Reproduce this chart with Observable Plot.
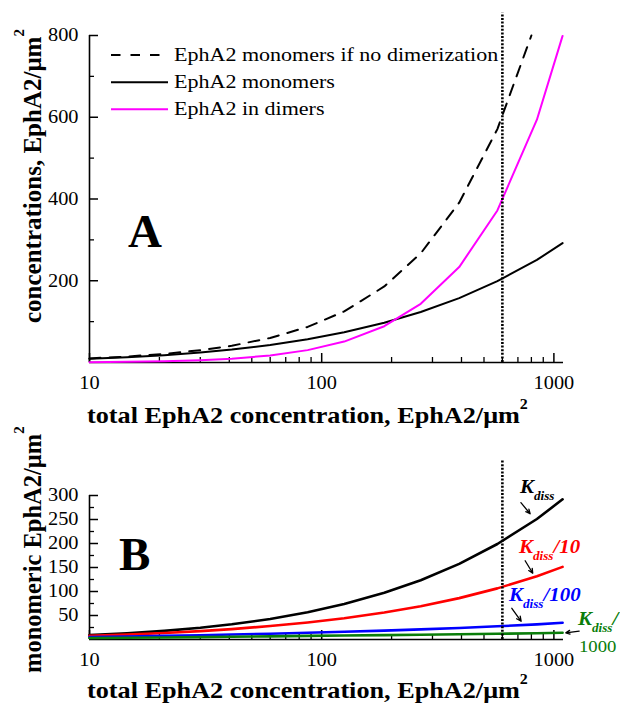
<!DOCTYPE html>
<html><head><meta charset="utf-8">
<script src="https://cdn.jsdelivr.net/npm/d3@7"></script>
<script src="https://cdn.jsdelivr.net/npm/@observablehq/plot@0.6"></script>
<style>
html,body{margin:0;padding:0;background:#fff;}
#wrap{position:relative;width:620px;height:703px;overflow:hidden;background:#fff;font-family:'Liberation Serif','DejaVu Serif',serif;}
#wrap > svg{position:absolute;left:0;}
#wrap svg text{font-family:'Liberation Serif','DejaVu Serif',serif;}
</style></head><body>
<div id="wrap"></div>
<script>
// ---- data ----
const totalConc   = [10, 14.5, 21, 30, 41, 60, 87, 125, 186, 267, 391, 571, 845, 1090];
const monomersA   = [9.2, 12.9, 18.0, 24.4, 31.6, 42.8, 56.7, 73.8, 97.2, 123.5, 157.6, 199, 251, 292];
const dimersA     = [0.8, 1.6, 3.0, 5.6, 9.4, 17.2, 30.3, 51.2, 88.8, 143.5, 233.4, 372, 594, 799];
const noDimerX    = [10, 14.5, 21, 30, 41, 60, 87, 125, 186, 267, 391, 571, 800];
const noDimerY    = [10, 14.5, 21, 30, 41, 60, 87, 125, 186, 267, 391, 571, 800];
const kdiss1      = [9.2, 12.9, 18.0, 24.4, 31.6, 42.8, 56.7, 73.8, 97.2, 123.5, 157.6, 199, 251, 292];
const kdiss10     = [7.6, 10.2, 13.5, 17.5, 21.7, 28.0, 35.5, 44.4, 56.3, 69.4, 86.2, 106.5, 131.9, 151.3];
const kdiss100    = [5, 6, 7.5, 9, 10.5, 12, 14, 16, 18.5, 21, 24, 27.5, 31.5, 35];
const kdiss1000   = [3, 3.5, 4.2, 5, 5.7, 6.6, 7.5, 8.3, 9.2, 10, 11, 12, 13, 14];
const verticalMark = 600;

const xMajor  = [10, 100, 1000];
const xMinor  = [20, 30, 40, 50, 60, 70, 80, 90, 200, 300, 400, 500, 600, 700, 800, 900];
const yMajorA = [200, 400, 600, 800];
const yMinorA = [100, 300, 500, 700];
const yMajorB = [50, 100, 150, 200, 250, 300];
const yMinorB = [25, 75, 125, 175, 225, 275];

const legendNames  = ["EphA2 monomers if no dimerization", "EphA2 monomers", "EphA2 in dimers"];
const legendColors = ["black", "black", "#ff00ff"];
const legendDash   = ["9.5,10", null, null];

const seriesB = [
  {name: "Kdiss", values: kdiss1, color: "black"},
  {name: "Kdiss/10", values: kdiss10, color: "#ff0000"},
  {name: "Kdiss/100", values: kdiss100, color: "#0000ff"},
  {name: "Kdiss/1000", values: kdiss1000, color: "#0a7d0a"}
];
// annotation arrows (data coordinates)
const arrowsB = [
  {x1: 721, y1: 285, x2: 790, y2: 262, c: "black"},
  {x1: 752, y1: 164, x2: 811, y2: 138, c: "black"},
  {x1: 659, y1: 65, x2: 723, y2: 38, c: "black"},
  {x1: 1285, y1: 17.5, x2: 1125, y2: 14, c: "black"}
];

const rowsA = totalConc.map((t, i) => ({t, mono: monomersA[i], dimer: dimersA[i]}));
const rowsDash = noDimerX.map((t, i) => ({t, v: noDimerY[i]}));
const rowsB = seriesB.flatMap(s => totalConc.map((t, i) => ({t, v: s.values[i], name: s.name})));

const FONT = "'Liberation Serif','DejaVu Serif',serif";
const baseStyle = {fontFamily: FONT, fontSize: "18px", color: "black", background: "transparent", overflow: "visible"};

function axes(yMajor, yMinor) {
  return [
    Plot.ruleX([10], {y1: 0, y2: yMajor[yMajor.length - 1], stroke: "black", strokeWidth: 1.6}),
    Plot.ruleY([0], {stroke: "black", strokeWidth: 1.6}),
    Plot.axisY({ticks: yMajor, tickSize: 0, tickPadding: 11, label: null, tickFormat: d => String(d)}),
    Plot.axisY({ticks: yMajor, tickSize: -9, tickFormat: () => "", label: null, strokeWidth: 1.5}),
    Plot.axisY({ticks: yMinor, tickSize: -5, tickFormat: () => "", label: null, strokeWidth: 1.3}),
    Plot.axisX({ticks: xMajor, tickSize: 0, tickPadding: 14, label: null, tickFormat: d => String(d)}),
    Plot.axisX({ticks: xMajor, tickSize: -9, tickFormat: () => "", label: null, strokeWidth: 1.5}),
    Plot.axisX({ticks: xMinor, tickSize: -5, tickFormat: () => "", label: null, strokeWidth: 1.3})
  ];
}

const dotted = {stroke: "black", strokeWidth: 2.6, strokeDasharray: "2,1.6"};

const plotA = Plot.plot({
  width: 620, height: 440,
  marginLeft: 89, marginRight: 57, marginTop: 35, marginBottom: 78,
  style: baseStyle,
  x: {type: "log", domain: [10, 1100]},
  y: {domain: [0, 800]},
  marks: [
    ...axes(yMajorA, yMinorA),
    Plot.line(rowsDash, {x: "t", y: "v", stroke: "black", strokeWidth: 2, strokeDasharray: "11,9"}),
    Plot.line(rowsA, {x: "t", y: "mono", stroke: "black", strokeWidth: 2}),
    Plot.line(rowsA, {x: "t", y: "dimer", stroke: "#ff00ff", strokeWidth: 2}),
    Plot.ruleX([verticalMark], {y1: 0, y2: 855, ...dotted})
  ]
});

const plotB = Plot.plot({
  width: 620, height: 263,
  marginLeft: 89, marginRight: 57, marginTop: 55, marginBottom: 64,
  style: baseStyle,
  x: {type: "log", domain: [10, 1100]},
  y: {domain: [0, 300]},
  color: {domain: seriesB.map(s => s.name), range: seriesB.map(s => s.color)},
  marks: [
    ...axes(yMajorB, yMinorB),
    Plot.line(rowsB, {x: "t", y: "v", z: "name", stroke: "name", strokeWidth: 2.6}),
    Plot.ruleX([verticalMark], {y1: 0, y2: 373, ...dotted}),
    Plot.arrow(arrowsB, {x1: "x1", y1: "y1", x2: "x2", y2: "y2", stroke: "c", strokeWidth: 1.3, headLength: 6, headAngle: 50})
  ]
});

function stretchTicks(svg, s) {
  svg.querySelectorAll('g[aria-label$="tick label"] text').forEach(t => {
    if (!t.textContent) return;
    let tr = t.getAttribute("transform");
    if (!tr) {
      const x = +(t.getAttribute("x") || 0), y = +(t.getAttribute("y") || 0);
      t.removeAttribute("x"); t.removeAttribute("y");
      tr = `translate(${x},${y})`;
    }
    t.setAttribute("transform", tr + ` scale(${s},1)`);
  });
}
stretchTicks(plotA, 1.13);
stretchTicks(plotB, 1.13);

const wrap = document.getElementById("wrap");
plotA.style.top = "0px";
plotB.style.top = "440px";
wrap.appendChild(plotA);
wrap.appendChild(plotB);

// ---- overlay: legend, panel letters, axis titles, annotations ----
const legendRowsY = [55, 82.3, 109.3];
let legendSvg = "";
legendNames.forEach((n, i) => {
  const y = legendRowsY[i];
  legendSvg += `<line x1="111" x2="168" y1="${y}" y2="${y}" stroke="${legendColors[i]}" stroke-width="2" ${legendDash[i] ? `stroke-dasharray="${legendDash[i]}"` : ""}/>`;
  legendSvg += `<text transform="translate(174,${y + 5.8}) scale(1.16,1)" font-size="19">${n}</text>`;
});

const kLabel = (x, y, color, suffix) =>
  `<text transform="translate(${x},${y}) scale(1.1,1)" font-size="19" font-weight="bold" font-style="italic" fill="${color}">K<tspan font-size="12" dy="7">diss</tspan>${suffix ? `<tspan dy="-7" font-size="19">${suffix}</tspan>` : ""}</text>`;

const overlay = `<svg width="620" height="703" style="top:0;pointer-events:none" fill="black">
  ${legendSvg}
  <text x="128" y="247" font-size="47" font-weight="bold">A</text>
  <text x="119" y="570" font-size="47" font-weight="bold">B</text>
  <text transform="translate(87,423) scale(1.14,1)" font-size="23" font-weight="bold">total EphA2 concentration, EphA2/μm<tspan font-size="14" dy="-14">2</tspan></text>
  <text transform="translate(87,698) scale(1.14,1)" font-size="23" font-weight="bold">total EphA2 concentration, EphA2/μm<tspan font-size="14" dy="-14">2</tspan></text>
  <text transform="translate(41,323) rotate(-90)" font-size="25" font-weight="bold">concentrations, EphA2/μm<tspan font-size="15" dy="-17">2</tspan></text>
  <text transform="translate(41,673) rotate(-90)" font-size="24.5" font-weight="bold">monomeric EphA2/μm<tspan font-size="15" dy="-17">2</tspan></text>
  ${kLabel(520, 493, "black", "")}
  ${kLabel(519, 553, "#ff0000", "/10")}
  ${kLabel(509, 601, "#0000ff", "/100")}
  ${kLabel(578, 625, "#0a7d0a", "/")}
  <text transform="translate(579,652) scale(1.1,1)" font-size="17" fill="#0a7d0a">1000</text>
</svg>`;
wrap.insertAdjacentHTML("beforeend", overlay);
</script>
</body></html>
